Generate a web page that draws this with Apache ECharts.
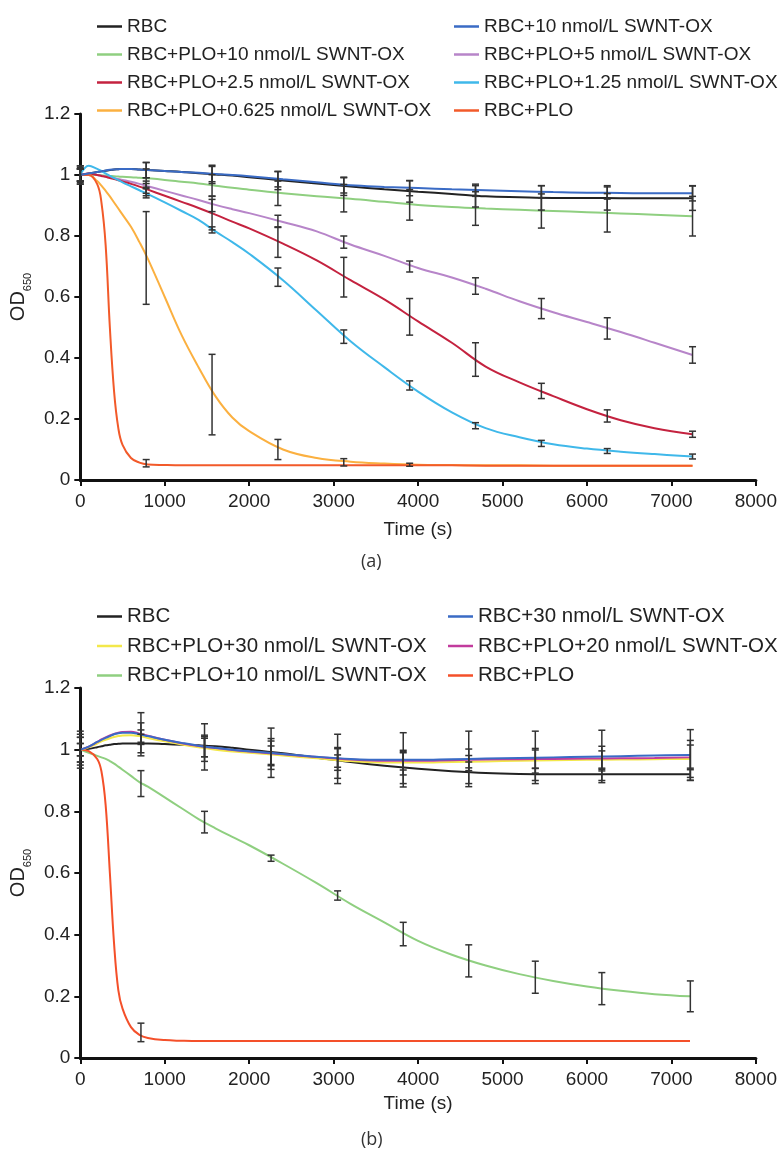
<!DOCTYPE html>
<html>
<head>
<meta charset="utf-8">
<script src="https://cdn.jsdelivr.net/npm/echarts@6/dist/echarts.min.js"></script>
<style>
    body { margin: 0; background: #fff; }
    #chartA { width: 780px; height: 578px; }
    #chartB { width: 780px; height: 575px; }
</style>
</head>
<body>
<div id="chartA"></div>
<div id="chartB"></div>
<script>
// ---- panel (a) ----
var timeA = [0, 100, 200, 250, 300, 350, 400, 450, 500, 600, 700, 800, 1000, 1200, 1400, 1600, 1800, 2000, 2400, 2800, 3200, 3600, 4000, 4400, 4800, 5200, 5600, 6000, 6400, 6800, 7250];
var rbcA      = [1.0, 1.005, 1.01, 1.012, 1.014, 1.016, 1.018, 1.019, 1.02, 1.02, 1.018, 1.016, 1.013, 1.01, 1.006, 1.002, 0.998, 0.993, 0.982, 0.972, 0.962, 0.953, 0.945, 0.938, 0.93, 0.927, 0.925, 0.925, 0.924, 0.924, 0.924];
var swnt10A   = [1.0, 1.005, 1.01, 1.012, 1.015, 1.017, 1.018, 1.019, 1.02, 1.02, 1.018, 1.016, 1.013, 1.01, 1.007, 1.003, 1.0, 0.996, 0.986, 0.976, 0.966, 0.961, 0.957, 0.953, 0.95, 0.947, 0.944, 0.942, 0.941, 0.94, 0.94];
var plo10A    = [1.0, 1.0, 1.0, 0.999, 0.998, 0.997, 0.996, 0.995, 0.994, 0.993, 0.991, 0.989, 0.984, 0.978, 0.972, 0.965, 0.958, 0.952, 0.94, 0.93, 0.922, 0.912, 0.902, 0.895, 0.89, 0.886, 0.882, 0.878, 0.874, 0.87, 0.865];
var plo5A     = [1.0, 1.005, 1.0, 0.998, 0.995, 0.992, 0.99, 0.987, 0.984, 0.978, 0.971, 0.963, 0.948, 0.933, 0.918, 0.902, 0.888, 0.875, 0.846, 0.815, 0.772, 0.735, 0.695, 0.664, 0.627, 0.586, 0.55, 0.518, 0.485, 0.45, 0.41];
var plo25A    = [1.0, 1.005, 1.0, 0.997, 0.994, 0.99, 0.987, 0.983, 0.979, 0.971, 0.962, 0.952, 0.932, 0.912, 0.892, 0.87, 0.847, 0.825, 0.775, 0.72, 0.655, 0.592, 0.52, 0.45, 0.372, 0.32, 0.275, 0.232, 0.196, 0.17, 0.15];
var plo125A   = [1.0, 1.03, 1.02, 1.013, 1.005, 0.997, 0.99, 0.983, 0.976, 0.963, 0.95, 0.937, 0.91, 0.882, 0.853, 0.815, 0.78, 0.742, 0.655, 0.555, 0.455, 0.37, 0.29, 0.222, 0.17, 0.14, 0.117, 0.103, 0.093, 0.085, 0.077];
var plo0625A  = [1.0, 1.0, 0.98, 0.965, 0.948, 0.93, 0.91, 0.89, 0.87, 0.83, 0.78, 0.725, 0.6, 0.475, 0.37, 0.275, 0.205, 0.16, 0.1, 0.072, 0.06, 0.054, 0.05, 0.049, 0.048, 0.048, 0.047, 0.047, 0.047, 0.047, 0.047];
var ploA      = [1.0, 1.0, 0.97, 0.91, 0.77, 0.5, 0.29, 0.17, 0.115, 0.072, 0.057, 0.051, 0.049, 0.048, 0.048, 0.048, 0.048, 0.048, 0.048, 0.048, 0.048, 0.048, 0.048, 0.048, 0.047, 0.047, 0.047, 0.047, 0.047, 0.047, 0.047];

// error bars (a): sample times, centres and half widths
var errTimeA = [0, 780, 1560, 2340, 3120, 3900, 4680, 5460, 6240, 7250];
var rbcMidA = [1.0, 1.016, 1.002, 0.982, 0.963, 0.946, 0.93, 0.925, 0.925, 0.924];
var rbcErrA = [0.03, 0.025, 0.03, 0.03, 0.03, 0.035, 0.035, 0.04, 0.04, 0.04];
var swnt10MidA = [1.0, 1.016, 1.003, 0.986, 0.966, 0.957, 0.95, 0.945, 0.941, 0.94];
var swnt10ErrA = [0.025, 0.025, 0.025, 0.025, 0.025, 0.025, 0.02, 0.02, 0.02, 0.025];
var plo10MidA = [1.0, 0.99, 0.966, 0.94, 0.924, 0.902, 0.89, 0.882, 0.876, 0.865];
var plo10ErrA = [0.02, 0.03, 0.035, 0.04, 0.045, 0.05, 0.055, 0.056, 0.063, 0.065];
var plo5MidA = [1.0, 0.96, 0.905, 0.848, 0.78, 0.70, 0.636, 0.562, 0.497, 0.41];
var plo5ErrA = [0.02, 0.02, 0.025, 0.02, 0.02, 0.018, 0.027, 0.033, 0.035, 0.027];
var plo25MidA = [1.0, 0.952, 0.87, 0.78, 0.665, 0.535, 0.395, 0.292, 0.21, 0.15];
var plo25ErrA = [0.02, 0.02, 0.05, 0.05, 0.065, 0.06, 0.055, 0.025, 0.02, 0.01];
var plo125MidA = [1.0, 0.94, 0.82, 0.665, 0.47, 0.31, 0.178, 0.12, 0.095, 0.077];
var plo125ErrA = [0.03, 0.015, 0.01, 0.03, 0.022, 0.015, 0.01, 0.01, 0.008, 0.008];
var plo0625MidA = [1.0, 0.728, 0.28, 0.10, 0.058, 0.05, 0.048, 0.048, 0.047, 0.047];
var plo0625ErrA = [0.02, 0.152, 0.132, 0.033, 0.012, 0.005, 0, 0, 0, 0];
var ploMidA = [1.0, 0.055, 0.048, 0.048, 0.048, 0.048, 0.047, 0.047, 0.047, 0.047];
var ploErrA = [0.02, 0.012, 0, 0, 0, 0, 0, 0, 0, 0];

// ---- panel (b) ----
var timeB = [0, 100, 200, 250, 300, 350, 400, 450, 500, 600, 700, 800, 1000, 1200, 1400, 1600, 1800, 2000, 2400, 2800, 3200, 3600, 4000, 4400, 4800, 5200, 5600, 6000, 6400, 6800, 7220];
var rbcB      = [1.0, 1.003, 1.008, 1.011, 1.014, 1.016, 1.018, 1.019, 1.02, 1.02, 1.02, 1.02, 1.018, 1.016, 1.014, 1.011, 1.006, 1.0, 0.988, 0.974, 0.96, 0.948, 0.938, 0.93, 0.924, 0.921, 0.92, 0.92, 0.92, 0.92, 0.92];
var swnt30B   = [1.0, 1.01, 1.025, 1.032, 1.038, 1.044, 1.05, 1.053, 1.055, 1.055, 1.05, 1.044, 1.032, 1.022, 1.013, 1.006, 1.0, 0.995, 0.986, 0.977, 0.97, 0.967, 0.967, 0.969, 0.971, 0.973, 0.975, 0.977, 0.979, 0.981, 0.983];
var plo30B    = [1.0, 1.008, 1.02, 1.027, 1.032, 1.037, 1.041, 1.044, 1.046, 1.047, 1.044, 1.038, 1.027, 1.017, 1.008, 1.0, 0.994, 0.99, 0.981, 0.972, 0.963, 0.958, 0.958, 0.96, 0.962, 0.964, 0.966, 0.967, 0.968, 0.969, 0.97];
var plo20B    = [1.0, 1.01, 1.025, 1.033, 1.04, 1.046, 1.051, 1.055, 1.057, 1.058, 1.052, 1.045, 1.032, 1.021, 1.012, 1.005, 0.999, 0.994, 0.985, 0.976, 0.968, 0.964, 0.964, 0.966, 0.968, 0.969, 0.97, 0.971, 0.972, 0.973, 0.975];
var plo10B    = [1.0, 0.99, 0.98, 0.975, 0.97, 0.963, 0.955, 0.945, 0.935, 0.915, 0.895, 0.88, 0.845, 0.81, 0.775, 0.745, 0.717, 0.69, 0.63, 0.567, 0.5, 0.44, 0.38, 0.335, 0.3, 0.272, 0.25, 0.232, 0.218, 0.207, 0.2];
var ploB      = [1.0, 0.995, 0.97, 0.93, 0.82, 0.6, 0.37, 0.22, 0.16, 0.1, 0.075, 0.065, 0.058, 0.056, 0.055, 0.055, 0.055, 0.055, 0.055, 0.055, 0.055, 0.055, 0.055, 0.055, 0.055, 0.055, 0.055, 0.055, 0.055, 0.055, 0.055];

var errTimeB = [0, 718, 1471, 2259, 3047, 3824, 4600, 5388, 6176, 7224];
var rbcMidB = [1.0, 1.02, 1.012, 0.988, 0.957, 0.94, 0.925, 0.92, 0.92, 0.92];
var rbcErrB = [0.04, 0.03, 0.035, 0.04, 0.05, 0.05, 0.035, 0.02, 0.02, 0.02];
var swnt30MidB = [1.0, 1.05, 1.009, 0.99, 0.97, 0.967, 0.97, 0.975, 0.978, 0.983];
var swnt30ErrB = [0.05, 0.07, 0.075, 0.08, 0.08, 0.088, 0.09, 0.085, 0.085, 0.082];
var plo30MidB = [1.0, 1.044, 1.002, 0.982, 0.963, 0.958, 0.961, 0.964, 0.966, 0.97];
var plo30ErrB = [0.06, 0.02, 0.04, 0.03, 0.02, 0.04, 0.02, 0.04, 0.03, 0.06];
var plo20MidB = [1.0, 1.052, 1.007, 0.986, 0.968, 0.964, 0.967, 0.969, 0.971, 0.975];
var plo20ErrB = [0.04, 0.035, 0.03, 0.05, 0.035, 0.03, 0.035, 0.03, 0.04, 0.04];
var plo10MidB = [1.0, 0.89, 0.765, 0.648, 0.527, 0.402, 0.315, 0.262, 0.225, 0.2];
var plo10ErrB = [0.02, 0.042, 0.035, 0.01, 0.015, 0.038, 0.052, 0.052, 0.052, 0.05];
var ploMidB = [1.0, 0.083, 0.055, 0.055, 0.055, 0.055, 0.055, 0.055, 0.055, 0.055];
var ploErrB = [0.02, 0.03, 0, 0, 0, 0, 0, 0, 0, 0];

var FONT = '"Liberation Sans", Arial, sans-serif';

function pairs(t, v) {
    var out = [];
    for (var i = 0; i < t.length; i++) out.push([t[i], v[i]]);
    return out;
}

function barData(t, groups) {
    var out = [];
    groups.forEach(function (g) {
        for (var i = 0; i < t.length; i++) {
            if (g[1][i] > 0) out.push([t[i], g[0][i] - g[1][i], g[0][i] + g[1][i]]);
        }
    });
    return out;
}

function renderBar(params, api) {
    var lo = api.coord([api.value(0), api.value(1)]);
    var hi = api.coord([api.value(0), api.value(2)]);
    var w = 3.5;
    var st = { stroke: '#333', lineWidth: 1.5 };
    return {
        type: 'group',
        children: [
            { type: 'line', shape: { x1: lo[0], y1: lo[1], x2: hi[0], y2: hi[1] }, style: st },
            { type: 'line', shape: { x1: lo[0] - w, y1: lo[1], x2: lo[0] + w, y2: lo[1] }, style: st },
            { type: 'line', shape: { x1: hi[0] - w, y1: hi[1], x2: hi[0] + w, y2: hi[1] }, style: st }
        ]
    };
}

function legend(names, left, top, gap, size) {
    return {
        data: names, orient: 'vertical', left: left, top: top, itemGap: gap,
        icon: 'rect', itemWidth: 25, itemHeight: 2.5, selectedMode: false,
        textStyle: { fontFamily: FONT, fontSize: size, color: '#222', lineHeight: 18 }
    };
}

function buildOption(lines, bars, legends, cfg) {
    var series = lines.map(function (l) {
        return {
            name: l.name, type: 'line', data: l.data, smooth: 0.4, showSymbol: false,
            lineStyle: { color: l.color, width: 2 }, itemStyle: { color: l.color }, z: 2
        };
    });
    series.push({
        type: 'custom', renderItem: renderBar, data: bars, z: 5,
        encode: { x: 0, y: [1, 2] }
    });
    return {
        animation: false,
        backgroundColor: '#fff',
        legend: legends,
        grid: { left: 78, right: 22, top: cfg.top, bottom: cfg.bottom },
        graphic: [{
            type: 'text', left: 361, top: cfg.capTop,
            style: { text: cfg.caption, font: '18px "Open Sans", "Noto Sans", sans-serif', fill: '#333' }
        }],
        xAxis: {
            type: 'value', min: 0, max: 8000, interval: 1000,
            name: 'Time (s)', nameLocation: 'middle', nameGap: cfg.nameGap,
            nameTextStyle: { fontFamily: FONT, fontSize: 19, color: '#222' },
            axisLine: { lineStyle: { color: '#111', width: 3 } },
            axisTick: { length: 6, lineStyle: { color: '#111', width: 2 } },
            axisLabel: {
                fontFamily: FONT, fontSize: 19, color: '#222', margin: 12,
                formatter: function (v) { return String(v); }
            },
            splitLine: { show: false }
        },
        yAxis: {
            type: 'value', min: 0, max: 1.2, interval: 0.2,
            name: '{a|OD}{b|650}', nameLocation: 'middle', nameGap: 44, nameRotate: 90,
            nameTextStyle: {
                rich: {
                    a: { fontFamily: FONT, fontSize: 20, color: '#222', lineHeight: 22 },
                    b: { fontFamily: FONT, fontSize: 11, color: '#222', verticalAlign: 'bottom', lineHeight: 22, padding: [0, 0, -4, 0] }
                }
            },
            axisLine: { show: true, lineStyle: { color: '#111', width: 3 } },
            axisTick: { show: true, length: 6, lineStyle: { color: '#111', width: 2 } },
            axisLabel: { fontFamily: FONT, fontSize: 19, color: '#222', margin: 10 },
            splitLine: { show: false }
        },
        series: series
    };
}

var linesA = [
    { name: 'RBC', color: '#222222', data: pairs(timeA, rbcA) },
    { name: 'RBC+PLO+10 nmol/L SWNT-OX', color: '#8fcf80', data: pairs(timeA, plo10A) },
    { name: 'RBC+PLO+5 nmol/L SWNT-OX', color: '#b785c9', data: pairs(timeA, plo5A) },
    { name: 'RBC+PLO+2.5 nmol/L SWNT-OX', color: '#c4223f', data: pairs(timeA, plo25A) },
    { name: 'RBC+PLO+1.25 nmol/L SWNT-OX', color: '#3fb8ea', data: pairs(timeA, plo125A) },
    { name: 'RBC+PLO+0.625 nmol/L SWNT-OX', color: '#fbb040', data: pairs(timeA, plo0625A) },
    { name: 'RBC+PLO', color: '#f25a2a', data: pairs(timeA, ploA) },
    { name: 'RBC+10 nmol/L SWNT-OX', color: '#3a6bc5', data: pairs(timeA, swnt10A) }
];
var barsA = barData(errTimeA, [
    [rbcMidA, rbcErrA], [swnt10MidA, swnt10ErrA], [plo10MidA, plo10ErrA], [plo5MidA, plo5ErrA],
    [plo25MidA, plo25ErrA], [plo125MidA, plo125ErrA], [plo0625MidA, plo0625ErrA], [ploMidA, ploErrA]
]);

var linesB = [
    { name: 'RBC', color: '#222222', data: pairs(timeB, rbcB) },
    { name: 'RBC+PLO+10 nmol/L SWNT-OX', color: '#8fcf80', data: pairs(timeB, plo10B) },
    { name: 'RBC+PLO', color: '#f4502a', data: pairs(timeB, ploB) },
    { name: 'RBC+PLO+30 nmol/L SWNT-OX', color: '#f3e84a', data: pairs(timeB, plo30B) },
    { name: 'RBC+PLO+20 nmol/L SWNT-OX', color: '#c23b9d', data: pairs(timeB, plo20B) },
    { name: 'RBC+30 nmol/L SWNT-OX', color: '#3a6bc5', data: pairs(timeB, swnt30B) }
];
var barsB = barData(errTimeB, [
    [rbcMidB, rbcErrB], [swnt30MidB, swnt30ErrB], [plo30MidB, plo30ErrB],
    [plo20MidB, plo20ErrB], [plo10MidB, plo10ErrB], [ploMidB, ploErrB]
]);

var chartA = echarts.init(document.getElementById('chartA'));
chartA.setOption(buildOption(linesA, barsA, [
    legend(['RBC', 'RBC+PLO+10 nmol/L SWNT-OX', 'RBC+PLO+2.5 nmol/L SWNT-OX', 'RBC+PLO+0.625 nmol/L SWNT-OX'], 92, 12, 9, 19),
    legend(['RBC+10 nmol/L SWNT-OX', 'RBC+PLO+5 nmol/L SWNT-OX', 'RBC+PLO+1.25 nmol/L SWNT-OX', 'RBC+PLO'], 449, 12, 9, 19)
], { top: 114, bottom: 98, nameGap: 40, caption: '(a)', capTop: 553 }));

var chartB = echarts.init(document.getElementById('chartB'));
chartB.setOption(buildOption(linesB, barsB, [
    legend(['RBC', 'RBC+PLO+30 nmol/L SWNT-OX', 'RBC+PLO+10 nmol/L SWNT-OX'], 92, 23, 8.5, 20.5),
    legend(['RBC+30 nmol/L SWNT-OX', 'RBC+PLO+20 nmol/L SWNT-OX', 'RBC+PLO'], 443, 23, 8.5, 20.5)
], { top: 110, bottom: 95, nameGap: 34, caption: '(b)', capTop: 553 }));
</script>
</body>
</html>
